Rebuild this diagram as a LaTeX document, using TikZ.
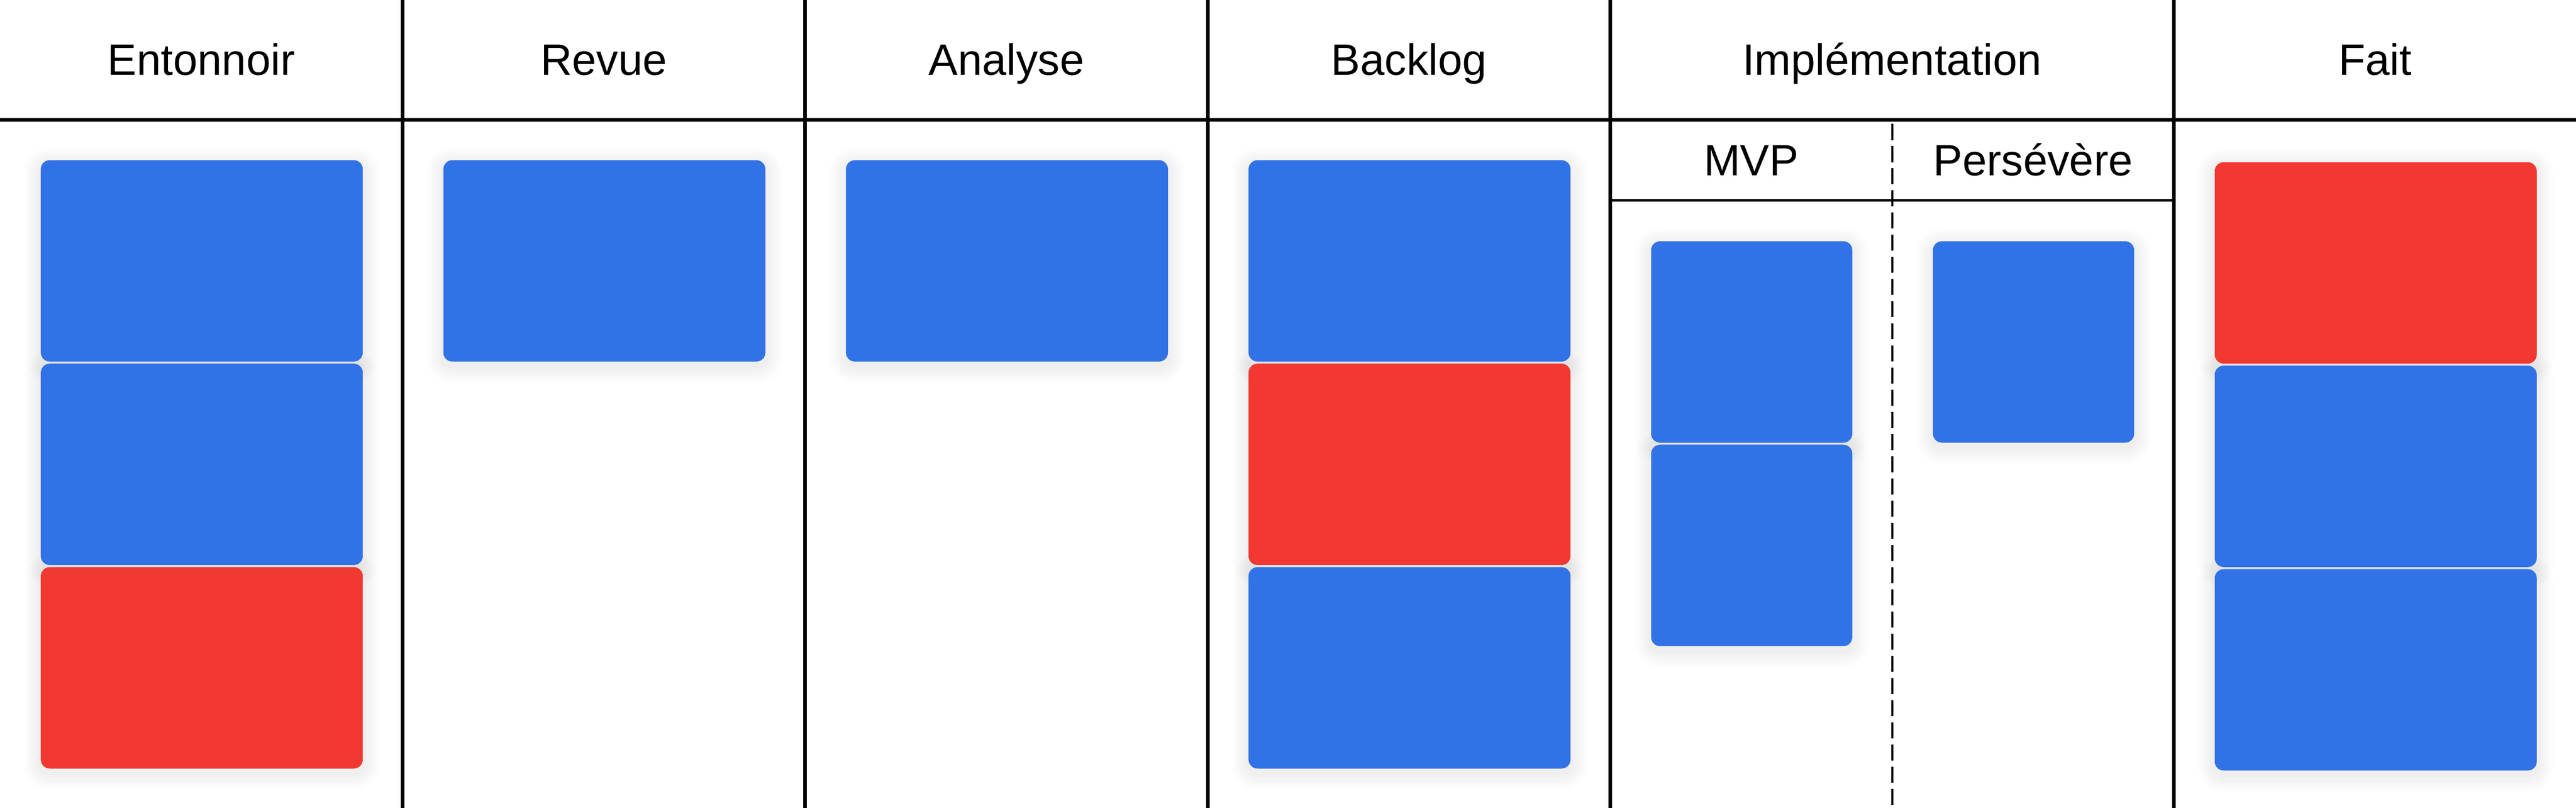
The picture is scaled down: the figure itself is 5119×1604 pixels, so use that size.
\documentclass[tikz,border=0pt]{standalone}
\usepackage{fontspec}
\setmainfont{Liberation Sans}
\usetikzlibrary{calc,backgrounds}
\definecolor{cardblue}{HTML}{3172E6}
\definecolor{cardred}{HTML}{F13931}
\tikzset{
  card/.style={draw=none, fill=#1, rounded corners=1.8pt, inner sep=0pt,
    minimum width=64pt, minimum height=40pt},
  narrowcard/.style={card=#1, minimum width=40pt},
  softshadow/.style={fill=black, fill opacity=0.0055},
  coltitle/.style={anchor=base, inner sep=0pt, font=\fontsize{8.7}{10}\selectfont},
  mainline/.style={line width=0.7pt, black},
  subline/.style={line width=0.5pt, black},
  dashline/.style={line width=0.4pt, black, dash pattern=on 3.2pt off 1.2pt},
}
\begin{document}
\begin{tikzpicture}[x=0.1pt, y=-0.1pt]
\useasboundingbox (0,0) rectangle (5119,1604);

% cards
\node[card=cardblue] (e1) at (401,518) {};
\node[card=cardblue] (e2) at (401,922) {};
\node[card=cardred]  (e3) at (401,1326) {};
\node[card=cardblue] (r1) at (1201,518) {};
\node[card=cardblue] (a1) at (2001,518) {};
\node[card=cardblue] (b1) at (2801,518) {};
\node[card=cardred]  (b2) at (2801,922) {};
\node[card=cardblue] (b3) at (2801,1326) {};
\node[narrowcard=cardblue] (m1) at (3481,679) {};
\node[narrowcard=cardblue] (m2) at (3481,1083) {};
\node[narrowcard=cardblue] (p1) at (4041,679) {};
\node[card=cardred]  (f1) at (4721,522) {};
\node[card=cardblue] (f2) at (4721,926) {};
\node[card=cardblue] (f3) at (4721,1330) {};

% soft shadows behind the cards
\begin{scope}[on background layer]
\fill[white] (0,0) rectangle (5119,1604);
\foreach \n in {e1,e2,e3,r1,a1,b1,b2,b3,m1,m2,p1,f1,f2,f3} {
  \foreach \d in {2,4,...,32} {
    \pgfmathsetmacro\rr{1.8+0.1*\d}
    \fill[softshadow, rounded corners=\rr pt]
      ($(\n.north west)+(-\d,-\d+8)$) rectangle ($(\n.south east)+(\d,\d+8)$);
  }
}
\end{scope}

% grid
\coordinate (hl) at (0,238);
\coordinate (hr) at (5119,238);
\draw[mainline] (hl) -- (hr);
\foreach \x in {800,1600,2400,3200,4320} {
  \draw[mainline] (\x,0) -- (\x,1604);
}
\coordinate (sl) at (3200,398);
\coordinate (sr) at (4320,398);
\draw[subline] (sl) -- (sr);
\coordinate (dt) at (3760,246);
\coordinate (db) at (3760,1604);
\draw[dashline] (dt) -- (db);

% titles
\node[coltitle] (t1) at (400,149) {Entonnoir};
\node[coltitle] (t2) at (1200,149) {Revue};
\node[coltitle] (t3) at (2000,149) {Analyse};
\node[coltitle] (t4) at (2800,149) {Backlog};
\node[coltitle] (t5) at (3760,149) {Implémentation};
\node[coltitle] (t6) at (4720,149) {Fait};
\node[coltitle] (s1) at (3480,349) {MVP};
\node[coltitle] (s2) at (4040,349) {Persévère};
\end{tikzpicture}
\end{document}
